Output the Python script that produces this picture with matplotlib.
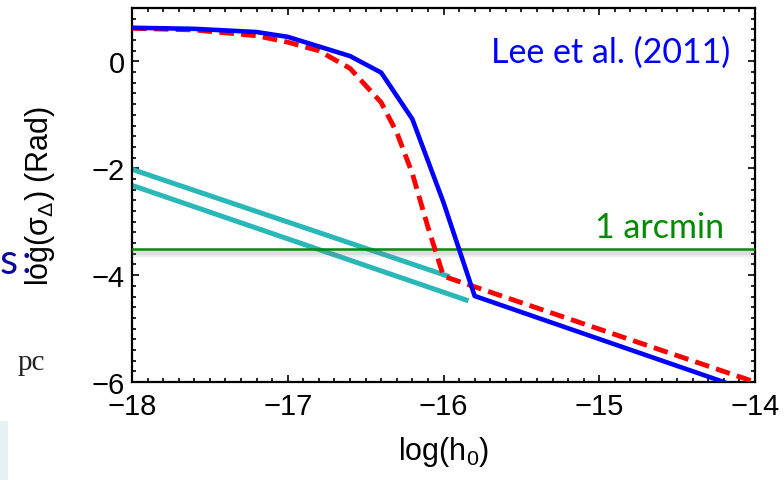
import matplotlib
matplotlib.use("Agg")
import matplotlib.pyplot as plt
import matplotlib.patheffects as pe
from matplotlib.patches import Rectangle
from matplotlib.ticker import MultipleLocator

plt.rcParams['font.family'] = ['Liberation Sans', 'DejaVu Sans']
plt.rcParams['mathtext.fontset'] = 'custom'
plt.rcParams['mathtext.rm'] = 'Liberation Sans'
plt.rcParams['mathtext.it'] = 'Liberation Sans:italic'

# Lee et al. (2011) solid blue curve
blue_x = [-18.0, -17.6, -17.2, -17.0, -16.6, -16.4, -16.2, -16.0, -15.8, -14.2, -14.0]
blue_y = [0.63, 0.61, 0.55, 0.46, 0.10, -0.21, -1.08, -2.64, -4.39, -6.0, -6.22]

# red dashed curve
red_x = [-18.0, -17.6, -17.2, -17.0, -16.8, -16.6, -16.4, -16.3, -16.2, -16.1, -16.0, -14.0]
red_y = [0.62, 0.59, 0.48, 0.36, 0.20, -0.13, -0.77, -1.33, -2.10, -3.10, -4.02, -6.0]

# cyan lines
cyan1_x = [-18.0, -15.96]
cyan1_y = [-2.02, -4.03]
cyan2_x = [-18.0, -15.84]
cyan2_y = [-2.32, -4.48]

arcmin = -3.51

fig = plt.figure(figsize=(7.84, 4.81), dpi=100)
ax = fig.add_axes([0.1684, 0.2037, 0.7946, 0.7776])

ax.plot(cyan1_x, cyan1_y, color='#2ab7b7', lw=3.6, solid_capstyle='butt', zorder=2)
ax.plot(cyan2_x, cyan2_y, color='#2ab7b7', lw=3.6, solid_capstyle='butt', zorder=2)

shadow = [pe.SimpleLineShadow(offset=(0, -d), shadow_color='grey', alpha=0.12, linewidth=2.5)
          for d in (1.0, 2.0, 3.0, 4.0)]
ax.axhline(arcmin, color='#008a00', lw=1.8, zorder=3,
           path_effects=shadow + [pe.Normal()])

ax.plot(red_x, red_y, color='#ff0000', lw=3.5, linestyle=(0, (3, 1.5)),
        dash_capstyle='butt', zorder=4)
ax.plot(blue_x, blue_y, color='#0000ff', lw=3.3, zorder=5)

ax.text(-14.16, 0.19, 'Lee et al. (2011)', color='#0000ff', fontsize=24.5,
        family=['Lato', 'DejaVu Sans'], ha='right', va='center')
ax.text(-14.2, -3.10, '1 arcmin', color='#008a00', fontsize=24.5,
        family=['Lato', 'DejaVu Sans'], ha='right', va='center')

ax.set_xlim(-18, -14)
ax.set_ylim(-6, 1)
ax.xaxis.set_major_locator(MultipleLocator(1))
ax.xaxis.set_minor_locator(MultipleLocator(0.1))
ax.yaxis.set_major_locator(MultipleLocator(2))
ax.yaxis.set_minor_locator(MultipleLocator(0.2))
ax.tick_params(which='both', direction='in', top=True, right=True, width=1.2,
               labelsize=21)
ax.tick_params(which='major', length=5)
ax.tick_params(which='minor', length=3)
ax.tick_params(axis='x', pad=7)
ax.tick_params(axis='y', pad=5)
for s in ax.spines.values():
    s.set_linewidth(1.6)

ax.set_xlabel(r'log(h$_0$)', fontsize=22, labelpad=10)
ax.set_ylabel(r'log(σ$_{\Delta}$) (Rad)', fontsize=22)
ax.yaxis.set_label_coords(-0.12, 0.5)

# leftover bits of the slide around the chart
fig.text(0.0, 0.455, 's', color='#0a0a9a', fontsize=30,
         family=['Lato', 'DejaVu Sans'], ha='left', va='center')
fig.text(0.028, 0.455, ':', color='#0a0a9a', fontsize=28,
         family=['Lato', 'DejaVu Sans'], ha='left', va='center')
fig.text(0.022, 0.245, 'pc', color='#222222', fontsize=21,
         family=['Liberation Serif', 'DejaVu Serif'], ha='left', va='center')
fig.patches.append(Rectangle((0, 0), 0.0105, 0.123, transform=fig.transFigure,
                             facecolor='#e8f1f2', edgecolor='none'))

fig.savefig('out.png', dpi=100)
